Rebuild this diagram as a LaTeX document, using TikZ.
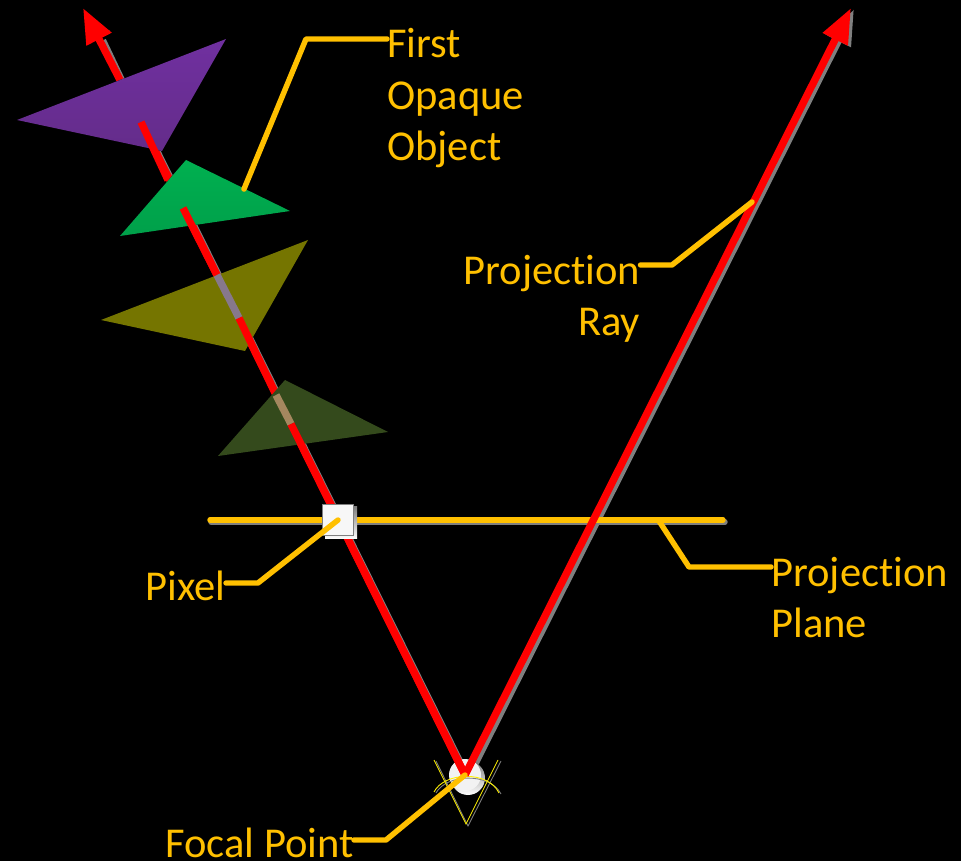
\documentclass[tikz,border=0pt]{standalone}
\usepackage{fontspec}
\setmainfont[Ligatures=NoCommon]{Carlito}
\usetikzlibrary{arrows.meta, positioning}

\definecolor{gold}{HTML}{FFC000}
\definecolor{shade}{HTML}{7F7F7F}

\tikzset{
    lbl/.style={text=gold, inner sep=0pt, font=\fontsize{24.2}{29.2}\selectfont},
    leader/.style={draw=gold, line width=3.1pt, line cap=round, line join=round},
    ray/.style={draw=red, line width=4.2pt},
    rayshade/.style={draw=shade, line width=4.2pt},
    tip/.style={-{Triangle[length=20pt, width=15pt]}},
    eye/.style={draw=yellow, line width=0.5pt},
    eyeshade/.style={draw=shade, line width=0.5pt}
}

\begin{document}
\begin{tikzpicture}[x=0.02cm, y=-0.02cm]
    \fill[black] (0, 0) rectangle (961, 861);
    \useasboundingbox (0, 0) rectangle (961, 861);

    \coordinate (focal) at (465, 775);
    \coordinate (tipL) at (83, 8);
    \coordinate (tipR) at (851, 8);
    \coordinate (hitP) at (120, 80);
    \coordinate (outP) at (141, 122);
    \coordinate (hitG) at (168, 180);
    \coordinate (outG) at (183, 208);
    \coordinate (hitO) at (217, 275);
    \coordinate (outO) at (239, 318);
    \coordinate (hitD) at (276, 395);
    \coordinate (outD) at (291, 424);
    \coordinate (neckL) at (101, 40);

    % shadows of the rays
    \draw[rayshade, tip, shade] ([shift={(3.5, 1.5)}]focal) -- ([shift={(3, 1.5)}]tipR);
    \draw[rayshade] ([shift={(1.5, 0.5)}]outP) -- ([shift={(1.5, 0.5)}]focal);
    \draw[rayshade] ([shift={(1.5, 0.5)}]hitP) -- ([shift={(1.5, 0.5)}]neckL);
    \fill[shade] (86, 38) -- (106, 29) -- (110, 31) -- (89, 40) -- cycle;

    % focal point
    \fill[shade] (468, 778) circle (17);
    \fill[white!95!black] (465, 775) circle (16);

    % eye
    \draw[eyeshade] (436, 761) -- (468, 826) -- (501, 761);
    \draw[eyeshade] (436, 793) .. controls (446, 774) and (490, 772) .. (501, 794);
    \draw[eye] (434, 760) -- (466, 824) -- (498, 760);
    \draw[eye] (434, 792) .. controls (444, 772) and (488, 770) .. (499, 793);

    % projection plane
    \draw[draw=shade, line width=3.1pt, line cap=round] (211, 522) -- (725, 522);
    \coordinate (planeL) at (210, 520);
    \coordinate (planeR) at (723, 520);
    \draw[leader] (planeL) -- (planeR);

    % rays
    \draw[ray, tip] (focal) -- (tipR);
    \draw[ray] (focal) -- (outP);
    \draw[ray, tip] (hitP) -- (tipL);

    % objects
    \fill[top color={rgb,255:red,112;green,48;blue,160}, bottom color={rgb,255:red,100;green,44;blue,138}] (17, 120) -- (226, 39) -- (162, 151) -- cycle;
    \draw[ray] (outP) -- (hitG);
    \fill[top color={rgb,255:red,0;green,176;blue,80}, bottom color={rgb,255:red,0;green,160;blue,74}] (120, 236) -- (186, 160) -- (290, 211) -- cycle;
    \draw[ray] (outG) -- (hitO);
    \fill[color={rgb,255:red,117;green,117;blue,0}] (101, 320) -- (308, 240) -- (245, 351) -- cycle;
    \draw[draw={rgb,255:red,135;green,120;blue,140}, line width=4.2pt] (hitO) -- (outO);
    \draw[ray] (outO) -- (hitD);
    \fill[color={rgb,255:red,52;green,74;blue,28}] (218, 456) -- (285, 380) -- (388, 432) -- cycle;
    \draw[draw={rgb,255:red,165;green,135;blue,95}, line width=4.2pt] (hitD) -- (outD);
    \draw[ray] (outD) -- (focal);

    % pixel
    \fill[shade] (325, 507) rectangle (357, 539);
    \node[draw=shade, line width=0.6pt, fill=white!97!black, minimum width=18.1pt, minimum height=18.1pt, inner sep=0pt] (pixel) at (338, 520) {};

    % labels
    \node[lbl, anchor=base west] (first) at (387, 58) {First};
    \node[lbl, anchor=base west] (opaque) at (387, 110) {Opaque};
    \node[lbl, anchor=base west] (object) at (387, 161) {Object};
    \node[lbl, anchor=base east] (projray) at (640.5, 285) {Projection};
    \node[lbl, anchor=base east] (ray) at (640.5, 336) {Ray};
    \node[lbl, anchor=base west] (projplane) at (771, 587) {Projection};
    \node[lbl, anchor=base west] (plane) at (771, 638) {Plane};
    \node[lbl, anchor=base east] (pix) at (226, 601) {Pixel};
    \node[lbl, anchor=base east] (focalpt) at (354, 857) {Focal Point};

    % leaders
    \coordinate (onGreen) at (244, 189);
    \coordinate (onRay) at (752, 202);
    \coordinate (onPlane) at (659, 521);
    \draw[leader] (first.west |- 0, 39) -- (306, 39) -- (onGreen);
    \draw[leader] (projray.east |- 0, 265) -- (672, 265) -- (onRay);
    \draw[leader] (projplane.west |- 0, 567) -- (689, 567) -- (onPlane);
    \draw[leader] (pix.east |- 0, 583) -- (258, 583) -- (pixel.center);
    \draw[leader] (focalpt.east |- 0, 840) -- (386, 840) -- (focal);
\end{tikzpicture}
\end{document}
